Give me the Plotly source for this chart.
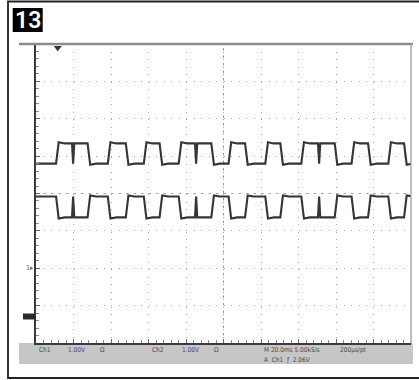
import plotly.graph_objects as go

W, H = 419, 380

# Edge times (in screen divisions) of the upper channel; the lower channel is its complement
edge_times = [0.57, 1.41, 1.95, 2.43, 2.91, 3.33, 3.84, 4.71, 5.17,
              5.61, 6.15, 6.55, 7.11, 8.00, 8.45, 8.89, 9.43, 9.85]
# Short spikes inside a long high period
glitch_times = [0.99, 4.27, 7.55]

# Signal levels in divisions (centre line = 0)
ch1_high, ch1_low = 1.34, 0.80
ch2_high, ch2_low = -0.08, -0.64

ch1_ground = -2.0
trigger_time = 0.58
trigger_level = 3.9

# Readout texts of the status bar
readout_line1 = [("Ch1", 37), ("1.00V", 66), ("Ω", 98), ("Ch2", 150), ("1.00V", 180),
                 ("Ω", 212), ("M 20.0ms 5.00kS/s", 262), ("200µs/pt", 338)]
readout_line2 = [("A  Ch1  ƒ  2.06V", 262)]

EDGE = 0.07        # transition width on screen
SETTLE = 0.16      # length of the overshoot after an edge
OVER = 0.03        # overshoot height


def px(x):
    return x / W


def py(y):
    return 1 - y / H


def waveform(high, low, start_high):
    """Step trace built from the edge and glitch lists."""
    events = sorted([(t, "edge") for t in edge_times] + [(t, "glitch") for t in glitch_times])
    state = start_high
    xs, ys = [0.0], [high if state else low]
    for t, kind in events:
        cur = high if state else low
        other = low if state else high
        sign = 1 if other > cur else -1
        if kind == "edge":
            xs += [t - EDGE / 2, t + EDGE / 2, t + EDGE / 2 + SETTLE]
            ys += [cur, other + sign * OVER, other]
            state = not state
        else:
            xs += [t - 0.03, t, t + 0.03]
            ys += [cur, other, cur]
    xs.append(10.0)
    ys.append(high if state else low)
    return xs, ys


fig = go.Figure()

x1, y1 = waveform(ch1_high, ch1_low, False)
x2, y2 = waveform(ch2_high, ch2_low, True)
for xs, ys in ((x1, y1), (x2, y2)):
    fig.add_trace(go.Scatter(x=xs, y=ys, mode="lines",
                             line=dict(color="#353535", width=2.1),
                             hoverinfo="skip", showlegend=False))

# Trigger position marker
fig.add_trace(go.Scatter(x=[trigger_time], y=[trigger_level], mode="markers",
                         marker=dict(symbol="triangle-down", size=7, color="#333"),
                         cliponaxis=False, hoverinfo="skip", showlegend=False))

axis_common = dict(
    showgrid=True, dtick=1, tick0=0, gridcolor="#a8a8a8", griddash="1px,6.5px",
    gridwidth=1, zeroline=False, showline=True, linecolor="#3a3a3a", linewidth=1.5,
    ticks="inside", ticklen=4, tickcolor="#666", showticklabels=False, fixedrange=True,
    minor=dict(dtick=0.2, ticks="inside", ticklen=3, tickcolor="#888", showgrid=False),
)

fig.update_layout(
    width=W, height=H, margin=dict(l=0, r=0, t=0, b=0),
    paper_bgcolor="white", plot_bgcolor="white",
    xaxis=dict(range=[0, 10], domain=[px(36), px(411)], **axis_common),
    yaxis=dict(range=[-4, 4], domain=[py(343), py(44)], **axis_common),
)

shapes = [
    # outer frame
    dict(type="rect", xref="paper", yref="paper", x0=px(8), x1=px(425),
         y0=py(378), y1=py(1.5), line=dict(color="#222", width=1.8)),
    # figure number box
    dict(type="rect", xref="paper", yref="paper", x0=px(12.7), x1=px(42.7),
         y0=py(32), y1=py(8), fillcolor="black", line=dict(width=0)),
    # status bar
    dict(type="rect", xref="paper", yref="paper", x0=px(19), x1=px(413),
         y0=py(364), y1=py(343), fillcolor="#c6c6c6", line=dict(width=0), layer="below"),
    # top edge of the screen
    dict(type="line", xref="paper", yref="paper", x0=px(19), x1=px(413),
         y0=py(44), y1=py(44), line=dict(color="#8c8c8c", width=2.5)),
    # right edge of the screen
    dict(type="line", xref="paper", yref="paper", x0=px(411), x1=px(411),
         y0=py(343), y1=py(44), line=dict(color="#a8a8a8", width=1.5)),
    # centre graticule lines
    dict(type="line", xref="x", yref="y", x0=0, x1=10, y0=0, y1=0,
         line=dict(color="#999", width=1, dash="2.5px,5px"), layer="below"),
    dict(type="line", xref="x", yref="y", x0=5, x1=5, y0=-4, y1=4,
         line=dict(color="#999", width=1, dash="2.5px,5px"), layer="below"),
    # math/reference marker on the left
    dict(type="rect", xref="paper", yref="paper", x0=px(23), x1=px(35),
         y0=py(319.5), y1=py(313.5), fillcolor="#2a2a2a", line=dict(width=0)),
]
fig.update_layout(shapes=shapes)

annotations = [
    dict(text="13", xref="paper", yref="paper", x=px(28), y=py(20.5),
         showarrow=False, xanchor="center", yanchor="middle",
         font=dict(family="Roboto", size=23, weight=600, color="white")),
    dict(text="1▸", xref="paper", yref="y", x=px(36), y=ch1_ground,
         showarrow=False, xanchor="right", yanchor="middle",
         font=dict(family="DejaVu Sans Condensed, sans-serif", size=7, color="#666")),
]
for text, xpos in readout_line1:
    annotations.append(dict(text=text, xref="paper", yref="paper", x=px(xpos), y=py(350),
                            showarrow=False, xanchor="left", yanchor="middle",
                            font=dict(family="DejaVu Sans Condensed, sans-serif",
                                      size=6.5, color="#4a4a4a")))
for text, xpos in readout_line2:
    annotations.append(dict(text=text, xref="paper", yref="paper", x=px(xpos), y=py(359.5),
                            showarrow=False, xanchor="left", yanchor="middle",
                            font=dict(family="DejaVu Sans Condensed, sans-serif",
                                      size=6.5, color="#4a4a4a")))
fig.update_layout(annotations=annotations)

fig.write_html("out.html", config={"displayModeBar": False})
